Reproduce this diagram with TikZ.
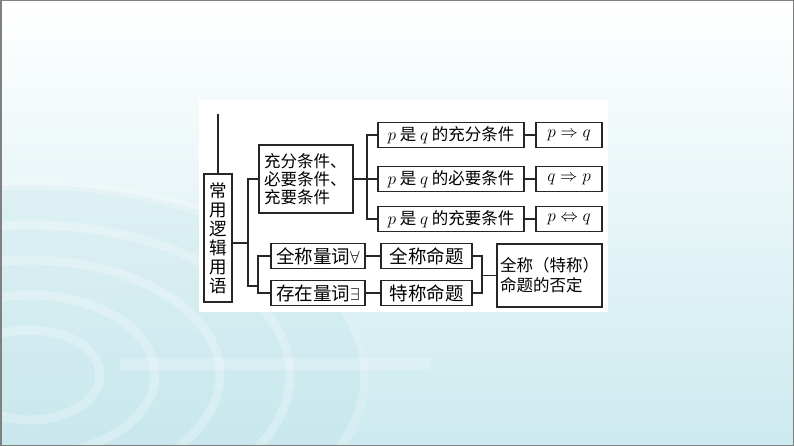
\documentclass[tikz,border=0pt]{standalone}
\usepackage{fontspec}
\newfontfamily\cjk{Noto Sans CJK SC}
\definecolor{bgcyan}{RGB}{204,234,239}
\definecolor{ringcyan}{RGB}{190,226,232}
\begin{document}
\begin{tikzpicture}[x=1pt, y=-1pt,
  box/.style={
    rectangle,                  % plain frame
    draw          = black!85,   % border
    line width    = 1.3pt,      % border width
    inner sep     = 0pt,        % text sits in the fixed size
    font          = \cjk\fontsize{16.5}{18.5}\selectfont,
    text          = black,      % inner label color
    fill          = white,
  },
  bigbox/.style={
    box,
    font          = \cjk\fontsize{18.5}{20}\selectfont,
  },
  link/.style={draw=black!85, line width=1.1pt},
  ]
% slide background
\useasboundingbox (0,0) rectangle (794,446);
\shade[top color=white, bottom color=bgcyan, middle color=bgcyan!50] (0,0) rectangle (794,446);
\fill[ringcyan, opacity=.25] (30,375) ellipse [x radius=340, y radius=190];
\foreach \rx/\ry in {70/45, 125/80, 190/115, 260/150, 335/190}
  \draw[white, opacity=.25, line width=9pt] (30,375) ellipse [x radius=\rx, y radius=\ry];
\fill[white, opacity=.2] (120,358) rectangle (430,370);
\draw[gray, line width=1.5pt] (0.75,0.75) rectangle (793.25,445.25);
% white panel
\fill[white] (199,100) rectangle (608,312);

% left column
\node at (218, 238) [box, minimum width=28pt, minimum height=128pt, align=center,
  font=\cjk\fontsize{17.5}{19}\selectfont]
  (logic) {常\\用\\逻\\辑\\用\\语};
\coordinate (top) at (218, 114);

% conditions
\node at (306, 179) [box, minimum width=94pt, minimum height=68pt, text width=84pt, align=left,
  font=\cjk\fontsize{16.5}{18}\selectfont]
  (conds) {充分条件、\\必要条件、\\充要条件};
\node at (451, 135) [box, minimum width=146pt, minimum height=25pt] (suf) {$p$ 是 $q$ 的充分条件};
\node at (451, 179) [box, minimum width=146pt, minimum height=25pt] (nec) {$p$ 是 $q$ 的必要条件};
\node at (451, 219) [box, minimum width=146pt, minimum height=25pt] (iff) {$p$ 是 $q$ 的充要条件};
\node at (569, 135) [box, minimum width=66pt, minimum height=25pt] (sufr) {$p\Rightarrow q$};
\node at (569, 179) [box, minimum width=66pt, minimum height=25pt] (necr) {$q\Rightarrow p$};
\node at (569, 219) [box, minimum width=66pt, minimum height=25pt] (iffr) {$p\Leftrightarrow q$};

% quantifiers
\node at (318, 256) [bigbox, minimum width=94pt, minimum height=25pt] (univq) {全称量词$\forall$};
\node at (318, 293) [bigbox, minimum width=94pt, minimum height=25pt] (exiq) {存在量词$\exists$};
\node at (426.5, 256) [bigbox, minimum width=91pt, minimum height=25pt] (univp) {全称命题};
\node at (426.5, 293) [bigbox, minimum width=91pt, minimum height=25pt] (exip) {特称命题};
\node at (549.5, 275.5) [box, minimum width=105pt, minimum height=63pt, text width=99pt, align=left,
  font=\cjk\fontsize{16.5}{20}\selectfont]
  (neg) {全称（特称）\\命题的否定};

% junctions
\coordinate (fork1) at (248, 243);
\coordinate (fork2) at (258, 286);
\coordinate (fork3) at (367, 179);
\coordinate (fork4) at (482, 275.5);

\draw[link] (top) -- (logic.north);
\draw[link] (logic.east |- fork1) -- (fork1);
\draw[link] (conds.west) -| (fork1) |- (fork2);
\draw[link] (univq.west) -| (fork2) |- (exiq.west);
\draw[link] (conds.east) -- (nec.west);
\draw[link] (suf.west) -| (fork3) |- (iff.west);
\draw[link] (suf.east) -- (sufr.west);
\draw[link] (nec.east) -- (necr.west);
\draw[link] (iff.east) -- (iffr.west);
\draw[link] (univq.east) -- (univp.west);
\draw[link] (exiq.east) -- (exip.west);
\draw[link] (univp.east) -| (fork4) |- (exip.east);
\draw[link] (fork4) -- (neg.west);
\end{tikzpicture}
\end{document}
